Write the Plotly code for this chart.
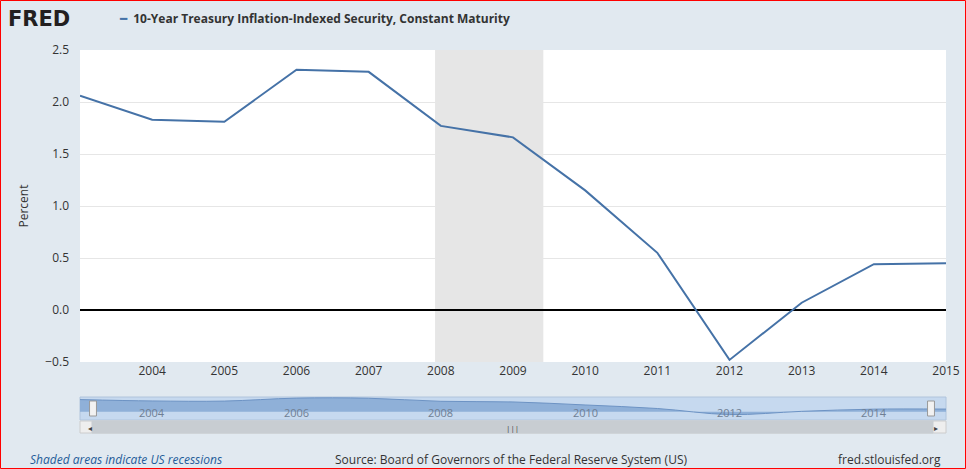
import plotly.graph_objects as go

years = [2003, 2004, 2005, 2006, 2007, 2008, 2009, 2010, 2011, 2012, 2013, 2014, 2015]
values = [2.06, 1.83, 1.81, 2.31, 2.29, 1.77, 1.66, 1.15, 0.55, -0.48, 0.07, 0.44, 0.45]
recession = [2007.92, 2009.42]
nav_labels = [2004, 2006, 2008, 2010, 2012, 2014]

W, H = 966, 469
L, R, T, B = 80, 20, 50, 36
pw, ph = W - L - R, H - T - B

def py(pix):  # pixel row -> paper y
    return (H - B - pix) / ph

def px(pix):
    return (pix - L) / pw

fig = go.Figure()
fig.add_trace(go.Scatter(x=years, y=values, mode="lines",
                         line=dict(color="#4572a7", width=2), hoverinfo="x+y"))
fig.add_trace(go.Scatter(x=years, y=values, mode="lines", xaxis="x2", yaxis="y2",
                         line=dict(color="#6d93c4", width=1, shape="spline"),
                         fill="tozeroy", fillcolor="#8fb0d8", hoverinfo="skip"))

# white plot background for main area, then recession shading
fig.add_shape(type="rect", xref="paper", yref="paper", x0=0, x1=1, y0=py(362), y1=1,
              fillcolor="white", line_width=0, layer="below")
fig.add_vrect(x0=recession[0], x1=recession[1], fillcolor="#e6e6e6", opacity=1,
              line_width=0, layer="below")

fig.update_layout(
    width=W, height=H, margin=dict(l=L, r=R, t=T, b=B, autoexpand=False),
    paper_bgcolor="#e1e9f0", plot_bgcolor="#e1e9f0", showlegend=False,
    font=dict(family="Open Sans", size=12, color="#333333"),
    xaxis=dict(range=[2003, 2015], tickvals=years[1:], showgrid=False, ticks="",
               anchor="y", zeroline=False, automargin=False, tickfont=dict(size=12, color="#333")),
    yaxis=dict(domain=[py(362), 1], range=[-0.5, 2.5], dtick=0.5, tickformat=".1f",
               gridcolor="#e6e6e6", zeroline=True, zerolinecolor="black", zerolinewidth=2,
               ticklabelstandoff=10, automargin=False,
               title=dict(text="Percent", font=dict(size=12, color="#333"), standoff=14)),
    xaxis2=dict(range=[2003, 2015], anchor="y2", visible=False),
    yaxis2=dict(domain=[py(420), py(397)], range=[-1.4, 2.5], visible=False),
)
# navigator background
fig.add_shape(type="rect", xref="paper", yref="paper", x0=0, x1=1, y0=py(420), y1=py(397),
              fillcolor="#c6d9ef", line=dict(color="#b0c4dc", width=1), layer="below")
for xp in [px(93), px(931)]:
    fig.add_shape(type="rect", xref="paper", yref="paper", x0=xp - 0.004, x1=xp + 0.004,
                  y0=py(416), y1=py(401), fillcolor="#f2f2f2", line=dict(color="#999", width=1))
# scrollbar
fig.add_shape(type="rect", xref="paper", yref="paper", x0=px(80), x1=px(946), y0=py(433), y1=py(421),
              fillcolor="#eeeeee", line=dict(color="#cccccc", width=1))
fig.add_shape(type="rect", xref="paper", yref="paper", x0=px(92), x1=px(933), y0=py(433), y1=py(421),
              fillcolor="#c8cdd2", line=dict(color="#c8cdd2", width=1))
for yr in nav_labels:
    fig.add_annotation(x=yr, xref="x2", y=py(412), yref="paper", yanchor="middle", text=str(yr),
                       showarrow=False, font=dict(size=11, color="#6f7f94"))
fig.add_annotation(x=px(512), y=py(427), xref="paper", yref="paper", yanchor="middle", text="|||",
                   showarrow=False, font=dict(size=8, color="#444"))
fig.add_annotation(x=px(86), y=py(427), xref="paper", yref="paper", yanchor="middle", text="◂",
                   showarrow=False, font=dict(size=8, color="#444"))
fig.add_annotation(x=px(940), y=py(427), xref="paper", yref="paper", yanchor="middle", text="▸",
                   showarrow=False, font=dict(size=8, color="#444"))

# header
fig.add_annotation(x=px(6), y=py(19), xref="paper", yref="paper", xanchor="left", yanchor="middle",
                   text="<b>FRED</b>", showarrow=False,
                   font=dict(family="DejaVu Sans", size=21, color="#231f20"))
fig.add_annotation(x=px(117), y=py(19), xref="paper", yref="paper", xanchor="left", yanchor="middle",
                   showarrow=False,
                   text="<span style='color:#4572a7'>━</span>  <b>10-Year Treasury Inflation-Indexed Security, Constant Maturity</b>",
                   font=dict(size=12, color="#333333"))
# footer
fig.add_annotation(x=px(28), y=py(459), xref="paper", yref="paper", xanchor="left", yanchor="middle",
                   showarrow=False, text="<i>Shaded areas indicate US recessions</i>",
                   font=dict(size=12, color="#1f5c99"))
fig.add_annotation(x=px(511), y=py(459), xref="paper", yref="paper", yanchor="middle", showarrow=False,
                   text="Source: Board of Governors of the Federal Reserve System (US)",
                   font=dict(size=12, color="#333"))
fig.add_annotation(x=px(943), y=py(459), xref="paper", yref="paper", xanchor="right", yanchor="middle",
                   showarrow=False, text="fred.stlouisfed.org", font=dict(size=12, color="#333"))
# red border
fig.add_shape(type="rect", xref="paper", yref="paper", x0=px(0.5), x1=px(965.5), y0=py(468.5), y1=py(0.5),
              line=dict(color="red", width=1))

fig.write_html("out.html", config={"displayModeBar": False})
# drop the default page margin so the figure sits at the window's corner
with open("out.html") as f:
    page = f.read()
page = page.replace("<body>", "<body style=\"margin:0;overflow:hidden\">", 1)
with open("out.html", "w") as f:
    f.write(page)
